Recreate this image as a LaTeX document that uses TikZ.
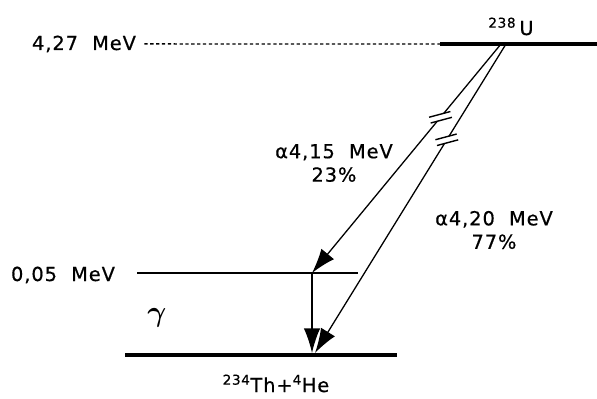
\documentclass[tikz,border=0pt]{standalone}
\usepackage{amsmath}
\usepackage{fontspec}
\setmainfont{DejaVu Sans}[LetterSpace=5, FakeBold=0.6]
\usetikzlibrary{arrows.meta}

\begin{document}
\begin{tikzpicture}[x=0.03cm, y=-0.03cm,
  every node/.style={font=\fontsize{16.5}{20}\selectfont, inner sep=2pt},
  level/.style={line width=3.6pt},
  sublevel/.style={line width=1.1pt},
  guide/.style={line width=1.2pt, dash pattern=on 2.8pt off 2.2pt},
  decay/.style={line width=1.1pt, -{Latex[length=21pt,width=14pt]}},
  brk/.pic={
    \fill[white] (-8,-2.6) rectangle (8,2.6);
    \draw[line width=1.2pt] (-11,-3) -- (11,-3) (-11,3) -- (11,3);
  }]
  \useasboundingbox (0,0) rectangle (597,399);
  \coordinate (topL) at (440,44);
  \coordinate (topR) at (597,44);
  \coordinate (midL) at (137,273);
  \coordinate (midR) at (358,273);
  \coordinate (botL) at (125,355);
  \coordinate (botR) at (397,355);
  \coordinate (u1) at (501,44);
  \coordinate (u2) at (506,44);
  \coordinate (th1) at (312,273);
  \coordinate (th0) at (312,353);
  \coordinate (th0b) at (315,353);
  \node[anchor=base] (e427) at (84,50) {4,27\ \ MeV};
  \node[anchor=base] (e005) at (63,281) {0,05\ \ MeV};
  \node[anchor=base] (nU) at (511,35) {\textsuperscript{238}\,U};
  \node[anchor=base] (nTh) at (276,392) {\textsuperscript{234}Th+\textsuperscript{4}He};
  \node[align=center] (a415) at (334,163) {α4,15\ \ MeV\\23\%};
  \node[align=center] (a420) at (494,230) {α4,20\ \ MeV\\77\%};
  \node[font=\fontsize{33}{35}\selectfont] (gam) at (157,318) {$\boldsymbol{\gamma}$};
  \draw[guide, shorten <=5pt] (e427.east) -- (topL);
  \draw[level] (topL) -- (topR);
  \draw[sublevel] (midL) -- (midR);
  \draw[level] (botL) -- (botR);
  \draw[decay] (u1) -- (th1) coordinate[pos=0.32] (b1);
  \draw[decay] (u2) -- (th0b) coordinate[pos=0.31] (b2);
  \draw[decay] (th1) -- (th0);
  \pic[rotate=15] at (b1) {brk};
  \pic[rotate=15] at (b2) {brk};
\end{tikzpicture}
\end{document}
